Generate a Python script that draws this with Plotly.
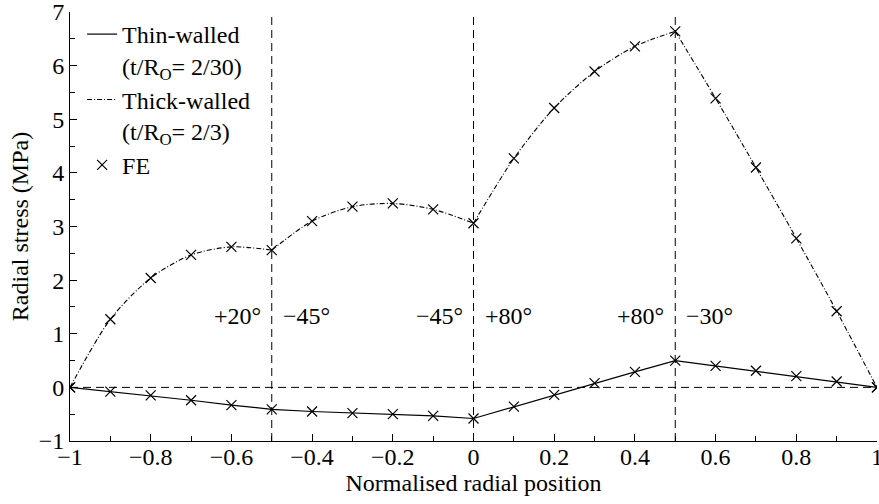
import plotly.graph_objects as go

# ---- data ----
x_pos = [-1.0, -0.9, -0.8, -0.7, -0.6, -0.5, -0.4, -0.3, -0.2, -0.1, 0.0,
         0.1, 0.2, 0.3, 0.4, 0.5, 0.6, 0.7, 0.8, 0.9, 1.0]
thin_walled = [0.0, -0.08, -0.15, -0.24, -0.33, -0.41, -0.45, -0.48, -0.50, -0.53, -0.58,
               -0.36, -0.14, 0.08, 0.29, 0.50, 0.40, 0.31, 0.21, 0.11, 0.0]
thick_walled = [0.0, 1.27, 2.04, 2.47, 2.62, 2.56, 3.10, 3.37, 3.43, 3.32, 3.06,
                4.27, 5.21, 5.89, 6.36, 6.64, 5.39, 4.10, 2.78, 1.42, 0.0]
layer_bounds = [-0.5, 0.0, 0.5]
ply_labels_left = ["+20°", "−45°", "+80°"]
ply_labels_right = ["−45°", "+80°", "−30°"]
label_y = 1.33

FONT = "Liberation Serif, Times New Roman, Times, serif"
F24 = dict(family=FONT, size=24, color="black")
fig = go.Figure()

# thin-walled (solid)
fig.add_trace(go.Scatter(x=x_pos, y=thin_walled, mode="lines",
                         line=dict(color="black", width=1.2),
                         name="Thin-walled<br>(t/R<sub>O</sub>= 2/30)"))

# thick-walled (dash-dot), drawn smooth within each layer
seg_idx = [0, 5, 10, 15, 20]
for k in range(len(seg_idx) - 1):
    a, b = seg_idx[k], seg_idx[k + 1]
    fig.add_trace(go.Scatter(x=x_pos[a:b + 1], y=thick_walled[a:b + 1], mode="lines",
                             line=dict(color="black", width=1.1, dash="5px,2px,1px,2px",
                                       shape="spline", smoothing=0.8),
                             name="Thick-walled<br>(t/R<sub>O</sub>= 2/3)",
                             legendgroup="thick", showlegend=(k == 0)))

# FE markers
fig.add_trace(go.Scatter(x=x_pos + x_pos, y=thin_walled + thick_walled, mode="markers",
                         marker=dict(symbol="x-thin", size=10,
                                     line=dict(width=1.2, color="black"), color="black"),
                         name="FE"))

# dashed reference lines
for xb in layer_bounds:
    fig.add_shape(type="line", xref="x", yref="y", x0=xb, x1=xb, y0=-1, y1=7,
                  line=dict(color="black", width=1, dash="8px,5px"), layer="below")
fig.add_shape(type="line", xref="x", yref="y", x0=-1, x1=1, y0=0, y1=0,
              line=dict(color="black", width=1, dash="8px,5px"), layer="below")

for xb, tl, tr in zip(layer_bounds, ply_labels_left, ply_labels_right):
    fig.add_annotation(x=xb, y=label_y, text=tl, showarrow=False, xanchor="right",
                       xshift=-9, font=F24)
    fig.add_annotation(x=xb, y=label_y, text=tr, showarrow=False, xanchor="left",
                       xshift=9, font=F24)

fig.update_layout(
    width=879, height=504,
    margin=dict(l=70, r=2, t=12, b=63),
    plot_bgcolor="white", paper_bgcolor="white",
    font=F24,
    showlegend=True,
    legend=dict(x=0.015, y=1.0, xanchor="left", yanchor="top",
                bgcolor="rgba(0,0,0,0)", font=F24,
                valign="top", itemwidth=30, tracegroupgap=0),
)
fig.update_xaxes(range=[-1, 1], dtick=0.2, tick0=-1, showgrid=False, zeroline=False,
                 showline=True, linecolor="black", linewidth=1, automargin=False,
                 ticks="inside", ticklen=7, tickcolor="black", tickfont=F24,
                 ticklabeloverflow="allow", ticklabelstandoff=-6,
                 minor=dict(dtick=0.1, ticks="inside", ticklen=5, tickcolor="black"),
                 title=dict(text="Normalised radial position", standoff=5, font=F24))
fig.update_yaxes(range=[-1, 7], dtick=1, showgrid=False, zeroline=False,
                 showline=True, linecolor="black", linewidth=1, automargin=False,
                 ticks="inside", ticklen=7, tickcolor="black", tickfont=F24,
                 ticklabeloverflow="allow",
                 minor=dict(dtick=0.5, ticks="inside", ticklen=5, tickcolor="black"),
                 title=dict(text="Radial stress (MPa)", standoff=3, font=F24))

fig.write_html("out.html")
